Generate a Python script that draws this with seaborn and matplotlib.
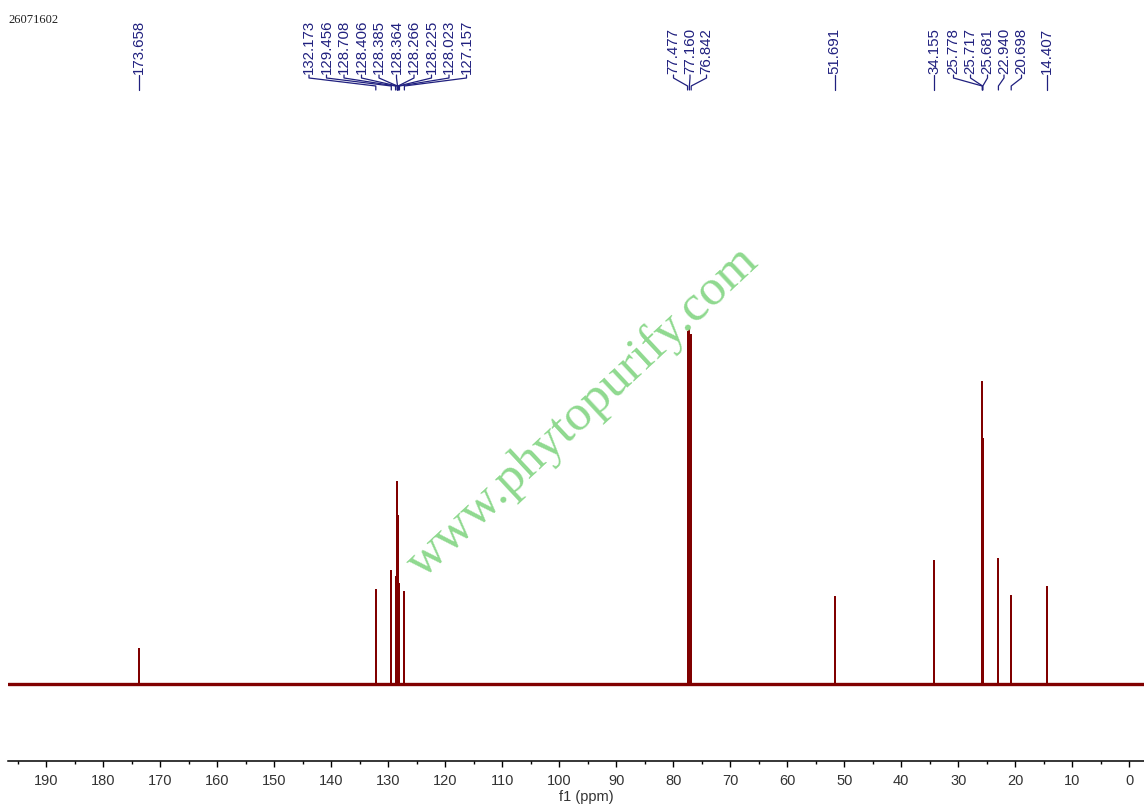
import matplotlib
matplotlib.use("Agg")
import numpy as np
import pandas as pd
import matplotlib.pyplot as plt
from matplotlib.ticker import MultipleLocator
import seaborn as sns

# Peak list (ppm) and peak heights (arbitrary units)
shifts = [173.658, 132.173, 129.456, 128.708, 128.406, 128.385, 128.364,
          128.266, 128.225, 128.023, 127.157, 77.477, 77.160, 76.842,
          51.691, 34.155, 25.778, 25.717, 25.681, 22.940, 20.698, 14.407]
heights = [35, 94, 113, 107, 202, 187, 168,
           120, 110, 100, 92, 352, 354, 349,
           87, 123, 302, 245, 122, 125, 88, 97]
peak_labels = [f"{s:.3f}" for s in shifts]

# where the software spread the labels (pixel x), None = straight above the peak
label_px = [None, 309, 326.5, 344, 361.5, 379, 396.5, 414, 431.5, 449, 466.5,
            673.5, 690, 706.5, None, None, 953.5, 970.5, 987.5, 1004, 1021.5, None]

major_ticks = list(range(0, 200, 10))

# stick spectrum
rows = []
for s, h in zip(shifts, heights):
    rows += [(s, 0), (s, h), (s, 0)]
spec = pd.DataFrame(rows, columns=["ppm", "intensity"])

sns.set_theme(style="white")
plt.rcParams["font.family"] = ["Liberation Sans", "DejaVu Sans"]

W, H = 1144, 812
fig = plt.figure(figsize=(W / 100, H / 100), dpi=100)
ax = fig.add_axes([8 / W, 50 / H, 1136 / W, 662 / H])

red = "#800000"
ax.axhline(0, color=red, lw=2.4, zorder=2)
sns.lineplot(data=spec, x="ppm", y="intensity", sort=False, estimator=None,
             color=red, lw=1.2, ax=ax, zorder=3)

ax.set_xlim(196.7, -2.6)
ax.set_ylim(-77, 585)
ax.set_xticks(major_ticks)
ax.xaxis.set_minor_locator(MultipleLocator(5))
ax.set_yticks([])
ax.set_xlabel("")
ax.set_ylabel("")
for side in ["top", "left", "right"]:
    ax.spines[side].set_visible(False)
ax.spines["bottom"].set_color("black")
ax.spines["bottom"].set_linewidth(1.1)
ax.tick_params(axis="x", which="major", direction="out", length=4, width=1,
               color="black", labelsize=10.5, labelcolor="#333333", pad=5, bottom=True)
ax.tick_params(axis="x", which="minor", direction="out", length=2.5, width=1,
               color="black", bottom=True)
ax.set_facecolor("white")

fig.text(586.7 / W, 1 - 797 / H, "f1 (ppm)", ha="center", va="center",
         fontsize=10.5, color="#333333")
fig.text(8 / W, 1 - 20 / H, "26071602", ha="left", va="center",
         fontsize=9, color="#222222", family=["Liberation Serif", "DejaVu Serif"])

# watermark
fig.text(583 / W, 1 - 412 / H, "www.phytopurify.com", rotation=43,
         ha="center", va="center", fontsize=37, color="#8fd98f",
         family=["Liberation Serif", "DejaVu Serif"], zorder=5)

# peak labels with connectors, drawn in pixel coordinates
ov = fig.add_axes([0, 0, 1, 1], facecolor="none")
ov.set_xlim(0, W)
ov.set_ylim(H, 0)
ov.axis("off")
navy = "#20207f"
for s, lab, lx in zip(shifts, peak_labels, label_px):
    px = ax.transData.transform((s, 0))[0]
    if lx is None:
        lx = px
    ov.plot([lx, lx, px, px], [76, 79, 87, 91], color=navy, lw=0.9)
    ov.text(lx, 74, lab, rotation=90, ha="center", va="bottom",
            fontsize=10.8, color=navy)

fig.savefig("out.png", dpi=100, facecolor="white")
